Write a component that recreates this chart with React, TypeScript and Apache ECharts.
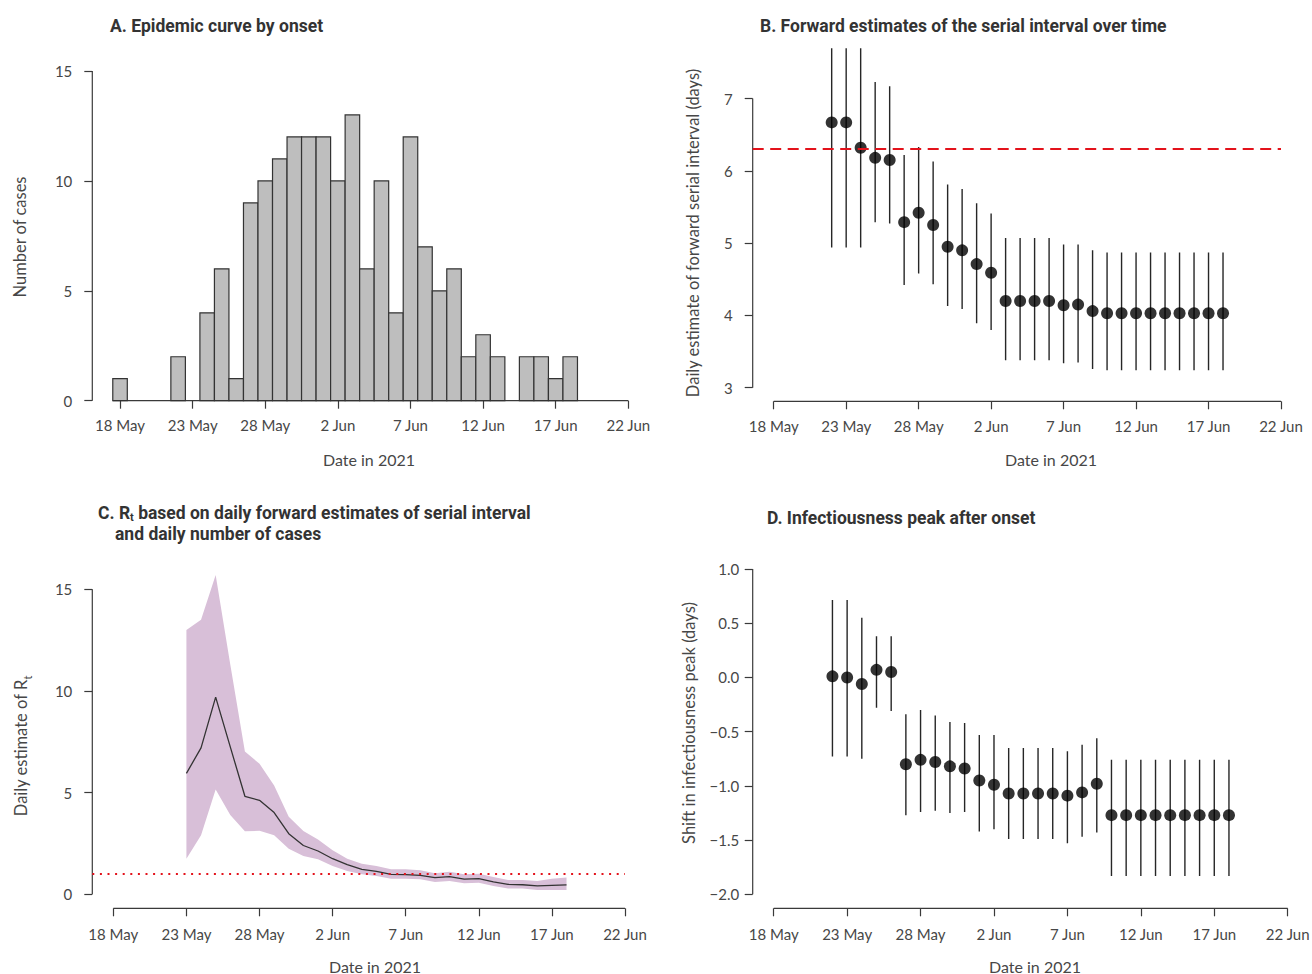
import React, { useEffect, useRef } from "react";
import * as echarts from "echarts";

// ---- Shared date axis (days after 18 May 2021) ----
const xTickDays = [0, 5, 10, 15, 20, 25, 30, 35];
const xTickLabels = ["18 May", "23 May", "28 May", "2 Jun", "7 Jun", "12 Jun", "17 Jun", "22 Jun"];

// ---- A. Epidemic curve by onset (18 May .. 18 Jun) ----
const caseDays = [0, 1, 2, 3, 4, 5, 6, 7, 8, 9, 10, 11, 12, 13, 14, 15, 16, 17, 18, 19, 20, 21, 22, 23, 24, 25, 26, 27, 28, 29, 30, 31];
const caseCounts = [1, 0, 0, 0, 2, 0, 4, 6, 1, 9, 10, 11, 12, 12, 12, 10, 13, 6, 10, 4, 12, 7, 5, 6, 2, 3, 2, 0, 2, 2, 1, 2];
const caseYTicks = [0, 5, 10, 15];

// ---- B. Forward serial interval (22 May .. 18 Jun) ----
const estimateDays = [4, 5, 6, 7, 8, 9, 10, 11, 12, 13, 14, 15, 16, 17, 18, 19, 20, 21, 22, 23, 24, 25, 26, 27, 28, 29, 30, 31];
const siMean = [6.67, 6.67, 6.32, 6.18, 6.15, 5.29, 5.42, 5.25, 4.95, 4.9, 4.71, 4.59, 4.2, 4.2, 4.2, 4.2, 4.14, 4.15, 4.06, 4.03, 4.03, 4.03, 4.03, 4.03, 4.03, 4.03, 4.03, 4.03];
const siLower = [4.94, 4.94, 4.94, 5.29, 5.27, 4.42, 4.58, 4.43, 4.13, 4.09, 3.89, 3.8, 3.38, 3.38, 3.38, 3.38, 3.34, 3.35, 3.26, 3.24, 3.24, 3.24, 3.24, 3.24, 3.24, 3.24, 3.24, 3.24];
const siUpper = [8.5, 8.5, 8.5, 7.23, 7.17, 6.22, 6.33, 6.13, 5.81, 5.75, 5.55, 5.41, 5.07, 5.07, 5.07, 5.07, 4.98, 4.98, 4.9, 4.87, 4.87, 4.87, 4.87, 4.87, 4.87, 4.87, 4.87, 4.87];
const siYTicks = [3, 4, 5, 6, 7];
const siReference = 6.3;

// ---- C. Rt (23 May .. 18 Jun) ----
const rtDays = [5, 6, 7, 8, 9, 10, 11, 12, 13, 14, 15, 16, 17, 18, 19, 20, 21, 22, 23, 24, 25, 26, 27, 28, 29, 30, 31];
const rtMean = [5.95, 7.2, 9.7, 7.25, 4.82, 4.62, 4.02, 2.98, 2.4, 2.13, 1.75, 1.46, 1.23, 1.13, 0.98, 0.97, 0.93, 0.82, 0.87, 0.75, 0.77, 0.61, 0.49, 0.47, 0.41, 0.44, 0.46];
const rtUpper = [13.0, 13.5, 15.7, 11.3, 7.02, 6.42, 5.35, 3.81, 3.11, 2.7, 2.16, 1.75, 1.5, 1.39, 1.23, 1.23, 1.18, 1.03, 1.11, 0.98, 1.01, 0.85, 0.7, 0.7, 0.65, 0.77, 0.82];
const rtLower = [1.75, 2.9, 5.15, 3.9, 3.1, 3.12, 2.9, 2.24, 1.88, 1.72, 1.39, 1.15, 0.98, 0.9, 0.77, 0.77, 0.74, 0.61, 0.65, 0.54, 0.57, 0.41, 0.28, 0.28, 0.21, 0.21, 0.21];
const rtYTicks = [0, 5, 10, 15];
const rtThreshold = 1;

// ---- D. Infectiousness peak shift (22 May .. 18 Jun) ----
const peakMean = [0.01, 0.0, -0.06, 0.07, 0.05, -0.8, -0.76, -0.78, -0.82, -0.84, -0.95, -0.99, -1.07, -1.07, -1.07, -1.07, -1.09, -1.06, -0.98, -1.27, -1.27, -1.27, -1.27, -1.27, -1.27, -1.27, -1.27, -1.27];
const peakLower = [-0.73, -0.73, -0.75, -0.28, -0.31, -1.27, -1.24, -1.23, -1.25, -1.24, -1.42, -1.4, -1.49, -1.49, -1.49, -1.49, -1.53, -1.47, -1.43, -1.83, -1.83, -1.83, -1.83, -1.83, -1.83, -1.83, -1.83, -1.83];
const peakUpper = [0.715, 0.715, 0.55, 0.38, 0.38, -0.34, -0.3, -0.35, -0.41, -0.42, -0.53, -0.53, -0.65, -0.65, -0.65, -0.65, -0.68, -0.62, -0.56, -0.76, -0.76, -0.76, -0.76, -0.76, -0.76, -0.76, -0.76, -0.76];
const peakYTicks = [-2, -1.5, -1, -0.5, 0, 0.5, 1];

// ---- Layout ----
const panels = [
  { left: 92.3, top: 71, width: 536, height: 329.7, xMin: -1.91, xMax: 35, yMin: 0, yMax: 15, yLabelMargin: 20, xLabelMargin: 17 },
  { left: 752.7, top: 48.3, width: 528.3, height: 353, xMin: -1.449, xMax: 35, yMin: 2.812, yMax: 7.695, yLabelMargin: 20, xLabelMargin: 17 },
  { left: 92.3, top: 570, width: 532.7, height: 338.3, xMin: -1.438, xMax: 35, yMin: -0.689, yMax: 15.95, yLabelMargin: 20, xLabelMargin: 18 },
  { left: 752.7, top: 560, width: 535, height: 348.3, xMin: -1.43, xMax: 35, yMin: -2.129, yMax: 1.083, yLabelMargin: 13.5, xLabelMargin: 18 },
];

const LABEL_FONT = "Lato, 'Noto Sans', sans-serif";
const TITLE_FONT = "Roboto, 'Noto Sans', sans-serif";
const TEXT_COLOR = "#474747";
const AXIS_COLOR = "#3a3a3a";

const yTickSets = [caseYTicks, siYTicks, rtYTicks, peakYTicks];
const yFormatters = [
  (v: number) => String(v),
  (v: number) => String(v),
  (v: number) => String(v),
  (v: number) => (v < 0 ? "\u2212" + Math.abs(v).toFixed(1) : v.toFixed(1)),
];

function axisLineSeries(i: number, xFrom: number) {
  const p = panels[i];
  const yt = yTickSets[i];
  const style = { color: AXIS_COLOR, width: 1.2 };
  return [
    {
      type: "line",
      xAxisIndex: i,
      yAxisIndex: i,
      silent: true,
      clip: false,
      symbol: "none",
      lineStyle: style,
      z: 1,
      data: [
        [xFrom, p.yMin],
        [xTickDays[xTickDays.length - 1], p.yMin],
      ],
    },
    {
      type: "line",
      xAxisIndex: i,
      yAxisIndex: i,
      silent: true,
      clip: false,
      symbol: "none",
      lineStyle: style,
      z: 1,
      data: [
        [p.xMin, yt[0]],
        [p.xMin, yt[yt.length - 1]],
      ],
    },
  ];
}

function errorBarSeries(i: number, days: number[], lower: number[], upper: number[]) {
  return {
    type: "custom",
    xAxisIndex: i,
    yAxisIndex: i,
    clip: true,
    silent: true,
    z: 2,
    data: days.map((d, k) => [d, lower[k], upper[k]]),
    renderItem: (_params: any, api: any) => {
      const a = api.coord([api.value(0), api.value(1)]);
      const b = api.coord([api.value(0), api.value(2)]);
      return {
        type: "line",
        shape: { x1: a[0], y1: a[1], x2: b[0], y2: b[1] },
        style: { stroke: "#262626", lineWidth: 1.4 },
      };
    },
  };
}

function pointSeries(i: number, days: number[], mean: number[], extra: any = {}) {
  return {
    type: "scatter",
    xAxisIndex: i,
    yAxisIndex: i,
    silent: true,
    symbol: "circle",
    symbolSize: 12,
    itemStyle: { color: "#000" },
    z: 3,
    data: days.map((d, k) => [d, mean[k]]),
    ...extra,
  };
}

function buildOption() {
  const grids = panels.map((p) => ({
    left: p.left,
    top: p.top,
    width: p.width,
    height: p.height,
    containLabel: false,
    outerBoundsMode: "none",
  }));

  const xAxes = panels.map((p, i) => ({
    type: "value",
    gridIndex: i,
    position: "bottom",
    min: p.xMin,
    max: p.xMax,
    axisLine: { show: false, onZero: false },
    splitLine: { show: false },
    axisTick: {
      show: true,
      inside: false,
      length: 8,
      customValues: xTickDays,
      lineStyle: { color: AXIS_COLOR, width: 1.2 },
    },
    axisLabel: {
      show: true,
      customValues: xTickDays,
      formatter: (v: number) => {
        const k = xTickDays.indexOf(Math.round(v));
        return k >= 0 ? xTickLabels[k] : "";
      },
      margin: p.xLabelMargin,
      fontFamily: LABEL_FONT,
      fontSize: 15,
      color: TEXT_COLOR,
    },
  }));

  const yAxes = panels.map((p, i) => ({
    type: "value",
    gridIndex: i,
    position: "left",
    min: p.yMin,
    max: p.yMax,
    axisLine: { show: false, onZero: false },
    splitLine: { show: false },
    axisTick: {
      show: true,
      inside: false,
      length: 8,
      customValues: yTickSets[i],
      lineStyle: { color: AXIS_COLOR, width: 1.2 },
    },
    axisLabel: {
      show: true,
      customValues: yTickSets[i],
      formatter: yFormatters[i],
      margin: p.yLabelMargin,
      fontFamily: LABEL_FONT,
      fontSize: 15,
      color: TEXT_COLOR,
    },
  }));

  const series: any[] = [];

  // A: histogram
  series.push({
    type: "custom",
    xAxisIndex: 0,
    yAxisIndex: 0,
    silent: true,
    z: 2,
    data: caseDays.map((d, k) => [d, caseCounts[k]]),
    renderItem: (_params: any, api: any) => {
      const d = api.value(0);
      const v = api.value(1);
      if (!v) return { type: "group", children: [] };
      const tl = api.coord([d - 0.5, v]);
      const br = api.coord([d + 0.5, 0]);
      return {
        type: "rect",
        shape: { x: tl[0], y: tl[1], width: br[0] - tl[0], height: br[1] - tl[1] },
        style: { fill: "#bebebe", stroke: "#333333", lineWidth: 1.2 },
      };
    },
  });
  series.push(...axisLineSeries(0, caseDays[0] - 0.5));

  // B
  series.push(errorBarSeries(1, estimateDays, siLower, siUpper));
  series.push(
    pointSeries(1, estimateDays, siMean, {
      markLine: {
        silent: true,
        symbol: "none",
        label: { show: false },
        lineStyle: { color: "#e3121b", width: 2.2, type: [11, 6.5] },
        data: [{ yAxis: siReference }],
      },
    })
  );
  series.push(...axisLineSeries(1, xTickDays[0]));

  // C
  series.push({
    type: "custom",
    xAxisIndex: 2,
    yAxisIndex: 2,
    silent: true,
    z: 1,
    data: [[rtDays[0], rtMean[0]]],
    renderItem: (_params: any, api: any) => {
      const pts: number[][] = [];
      rtDays.forEach((d, k) => pts.push(api.coord([d, rtUpper[k]])));
      for (let k = rtDays.length - 1; k >= 0; k--) pts.push(api.coord([rtDays[k], rtLower[k]]));
      return { type: "polygon", shape: { points: pts }, style: { fill: "#d8bfd8" } };
    },
  });
  series.push({
    type: "line",
    xAxisIndex: 2,
    yAxisIndex: 2,
    silent: true,
    symbol: "none",
    z: 3,
    lineStyle: { color: "#333333", width: 1.3 },
    data: rtDays.map((d, k) => [d, rtMean[k]]),
    markLine: {
      silent: true,
      symbol: "none",
      label: { show: false },
      lineStyle: { color: "#e3121b", width: 2.2, type: [2, 5.6] },
      data: [{ yAxis: rtThreshold }],
    },
  });
  series.push(...axisLineSeries(2, xTickDays[0]));

  // D
  series.push(errorBarSeries(3, estimateDays, peakLower, peakUpper));
  series.push(pointSeries(3, estimateDays, peakMean));
  series.push(...axisLineSeries(3, xTickDays[0]));

  const titleStyle = {
    fontFamily: TITLE_FONT,
    fontSize: 17.5,
    fontWeight: "bold",
    fill: "#333333",
    align: "left",
    verticalAlign: "middle",
    lineHeight: 18,
  };
  const yNameStyle = {
    fontFamily: LABEL_FONT,
    fontSize: 16.5,
    fill: TEXT_COLOR,
    align: "center",
    verticalAlign: "middle",
  };
  const xNameStyle = { ...yNameStyle, fontSize: 16 };

  const graphic = [
    { type: "text", x: 110, y: 26, style: { ...titleStyle, text: "A. Epidemic curve by onset" } },
    { type: "text", x: 760, y: 26, style: { ...titleStyle, text: "B. Forward estimates of the serial interval over time" } },
    {
      type: "text",
      x: 98,
      y: 513,
      style: {
        ...titleStyle,
        text: "C. R{s|t} based on daily forward estimates of serial interval",
        rich: { s: { fontFamily: TITLE_FONT, fontSize: 11, fontWeight: "bold", fill: "#333333", verticalAlign: "bottom", lineHeight: 20 } },
      },
    },
    { type: "text", x: 115, y: 534, style: { ...titleStyle, text: "and daily number of cases" } },
    { type: "text", x: 767, y: 518, style: { ...titleStyle, text: "D. Infectiousness peak after onset" } },

    { type: "text", x: 20, y: 237, rotation: Math.PI / 2, style: { ...yNameStyle, text: "Number of cases" } },
    { type: "text", x: 369, y: 459, style: { ...xNameStyle, text: "Date in 2021" } },
    { type: "text", x: 693, y: 233, rotation: Math.PI / 2, style: { ...yNameStyle, text: "Daily estimate of forward serial interval (days)" } },
    { type: "text", x: 1051, y: 459, style: { ...xNameStyle, text: "Date in 2021" } },
    {
      type: "text",
      x: 21,
      y: 746,
      rotation: Math.PI / 2,
      style: {
        ...yNameStyle,
        text: "Daily estimate of R{s|t}",
        rich: { s: { fontFamily: LABEL_FONT, fontSize: 11, fill: TEXT_COLOR, verticalAlign: "bottom", lineHeight: 23 } },
      },
    },
    { type: "text", x: 375, y: 966, style: { ...xNameStyle, text: "Date in 2021" } },
    { type: "text", x: 689, y: 723, rotation: Math.PI / 2, style: { ...yNameStyle, text: "Shift in infectiousness peak (days)" } },
    { type: "text", x: 1035, y: 966, style: { ...xNameStyle, text: "Date in 2021" } },
  ];

  return {
    animation: false,
    backgroundColor: "#ffffff",
    textStyle: { fontFamily: LABEL_FONT },
    grid: grids,
    xAxis: xAxes,
    yAxis: yAxes,
    series,
    graphic,
  };
}

export default function App() {
  const ref = useRef<HTMLDivElement | null>(null);
  useEffect(() => {
    if (!ref.current) return;
    const chart = echarts.init(ref.current, undefined, { renderer: "svg" });
    chart.setOption(buildOption() as any);
    return () => chart.dispose();
  }, []);
  return (
    <div
      ref={ref}
      style={{ position: "absolute", left: 0, top: 0, width: 1312, height: 974, overflow: "hidden" }}
    />
  );
}
